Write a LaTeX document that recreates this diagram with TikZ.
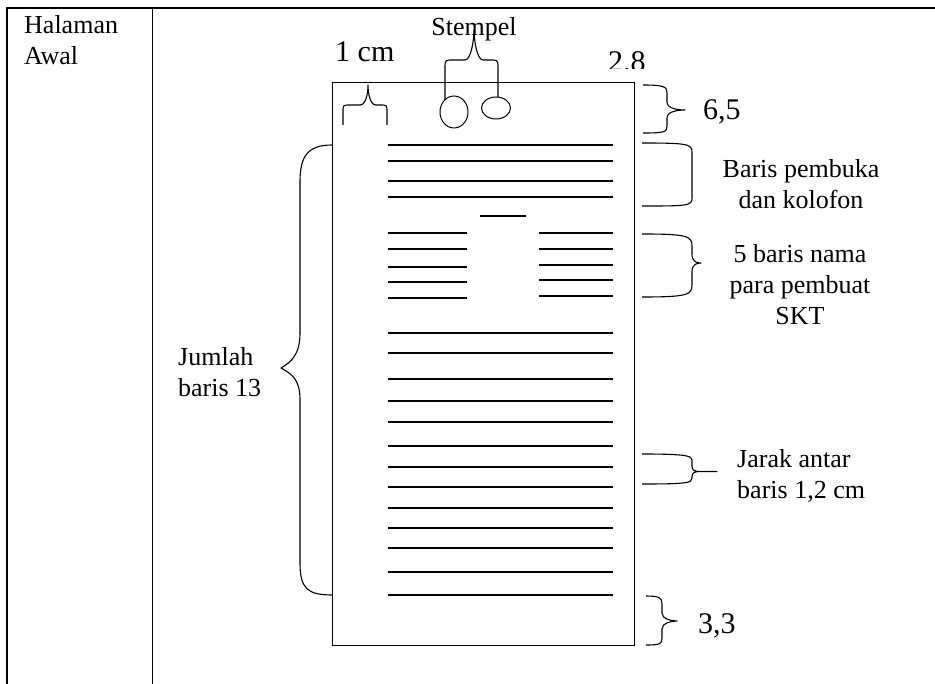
\documentclass[tikz,border=0pt]{standalone}
\usepackage{fontspec}
\setmainfont{Liberation Serif}
\usepackage{tikz}
\begin{document}
\begin{tikzpicture}[x=1pt, y=-1pt,
    lbl/.style={font=\fontsize{26}{31}\selectfont, inner sep=0pt},
    biglbl/.style={font=\fontsize{30}{36}\selectfont, inner sep=0pt},
    tabthick/.style={line width=2pt},
    tabthin/.style={line width=0.9pt},
    pageline/.style={line width=1pt},
    txtline/.style={line width=1.3pt},
    brc/.style={line width=1.1pt, line join=round}
]
\useasboundingbox (0,0) rectangle (935,684);
% table
\draw[tabthick] (7,684) -- (7,8) -- (935,8);
\draw[tabthin] (152,8) -- (152,684);
\node[lbl, anchor=north west, align=left] (halaman) at (24,15) {Halaman\\Awal};
% page
\draw[pageline] (332,83) rectangle (634,645);
\foreach \y in {145,161,181,197}
  \draw[txtline] (388,\y) -- (613,\y);
\draw[txtline] (480,216) -- (526,216);
\foreach \y in {233,249,267,282,298}
  \draw[txtline] (388,\y) -- (467,\y);
\foreach \y in {233,249,265,280,296}
  \draw[txtline] (539,\y) -- (613,\y);
\foreach \y in {333,353,379,401,422,446,467,487,508,528,548,572,595}
  \draw[txtline] (388,\y) -- (613,\y);
% stamps
\draw[pageline] (454,112) ellipse [x radius=14, y radius=16];
\draw[pageline] (496,108) ellipse [x radius=14.5, y radius=11];
% labels
\node[lbl, anchor=base] (stempel) at (474,36) {Stempel};
\node[biglbl, anchor=base west] (satucm) at (335,62) {1 cm};
\begin{scope}
  \clip (600,40) rectangle (670,69);
  \node[biglbl, anchor=base west] (duadelapan) at (608,72) {2.8};
\end{scope}
\node[biglbl, anchor=base west] (enamlima) at (703,120) {6,5};
\node[biglbl, anchor=base west] (tigatiga) at (698,633) {3,3};
\node[lbl, anchor=north, align=center] (pembuka) at (801,159) {Baris pembuka\\dan kolofon};
\node[lbl, anchor=north, align=center] (pembuat) at (800,244) {5 baris nama\\para pembuat\\SKT};
\node[lbl, anchor=north west, align=left] (jarak) at (737,449) {Jarak antar\\baris 1,2 cm};
\node[lbl, anchor=north west, align=left] (jumlah) at (178,347) {Jumlah\\baris 13};
% braces
\draw[brc] (343,125) -- (343,112) .. controls +(0,-7) and +(-7,0) .. (350,105) -- (360,105)
  .. controls +(6,0) and +(0,8) .. (368,85) .. controls +(0,8) and +(-6,0) .. (376,105)
  -- (380,105) .. controls +(7,0) and +(0,-7) .. (387,112) -- (387,125);
\draw[brc] (445,100) -- (445,68) .. controls +(0,-8) and +(-8,0) .. (453,60) -- (465,60)
  .. controls +(6,0) and +(0,10) .. (474,30) .. controls +(0,10) and +(-6,0) .. (483,60)
  -- (490,60) .. controls +(8,0) and +(0,-8) .. (498,68) -- (498,97);
\draw[brc] (643,85) .. controls +(22,0) and +(0,-6) .. (667,93) -- (667,102)
  .. controls +(0,7) and +(-6,0) .. (685,110) .. controls +(-6,0) and +(0,-7) .. (667,118)
  -- (667,126) .. controls +(0,6) and +(22,0) .. (643,133);
\draw[brc] (642,143) .. controls +(45,0) and +(0,-8) .. (692,152) -- (692,198)
  .. controls +(0,8) and +(45,0) .. (642,206);
\draw[brc] (642,234) .. controls +(45,0) and +(0,-10) .. (692,246) -- (692,254)
  .. controls +(0,8) and +(-4,0) .. (701,263) .. controls +(-4,0) and +(0,-8) .. (692,272)
  -- (692,285) .. controls +(0,10) and +(45,0) .. (642,297);
\draw[brc] (642,454) .. controls +(45,0) and +(0,-4) .. (692,460) -- (692,466)
  .. controls +(0,4) and +(-6,0) .. (700,471.5) -- (717,471.5) -- (700,471.5)
  .. controls +(-6,0) and +(0,-4) .. (692,477) -- (692,478)
  .. controls +(0,5) and +(45,0) .. (642,484);
\draw[brc] (646,596) .. controls +(14,0) and +(0,-6) .. (662,604) -- (662,613)
  .. controls +(0,6) and +(-6,0) .. (677,621) .. controls +(-6,0) and +(0,-6) .. (662,629)
  -- (662,638) .. controls +(0,6) and +(14,0) .. (646,645);
\draw[brc] (332,145) .. controls +(-25,0) and +(0,-25) .. (300,182) -- (300,333)
  .. controls +(0,22) and +(10,-6) .. (281,368) .. controls +(10,6) and +(0,-22) .. (300,400)
  -- (300,563) .. controls +(0,25) and +(-25,0) .. (332,595);
\end{tikzpicture}
\end{document}
